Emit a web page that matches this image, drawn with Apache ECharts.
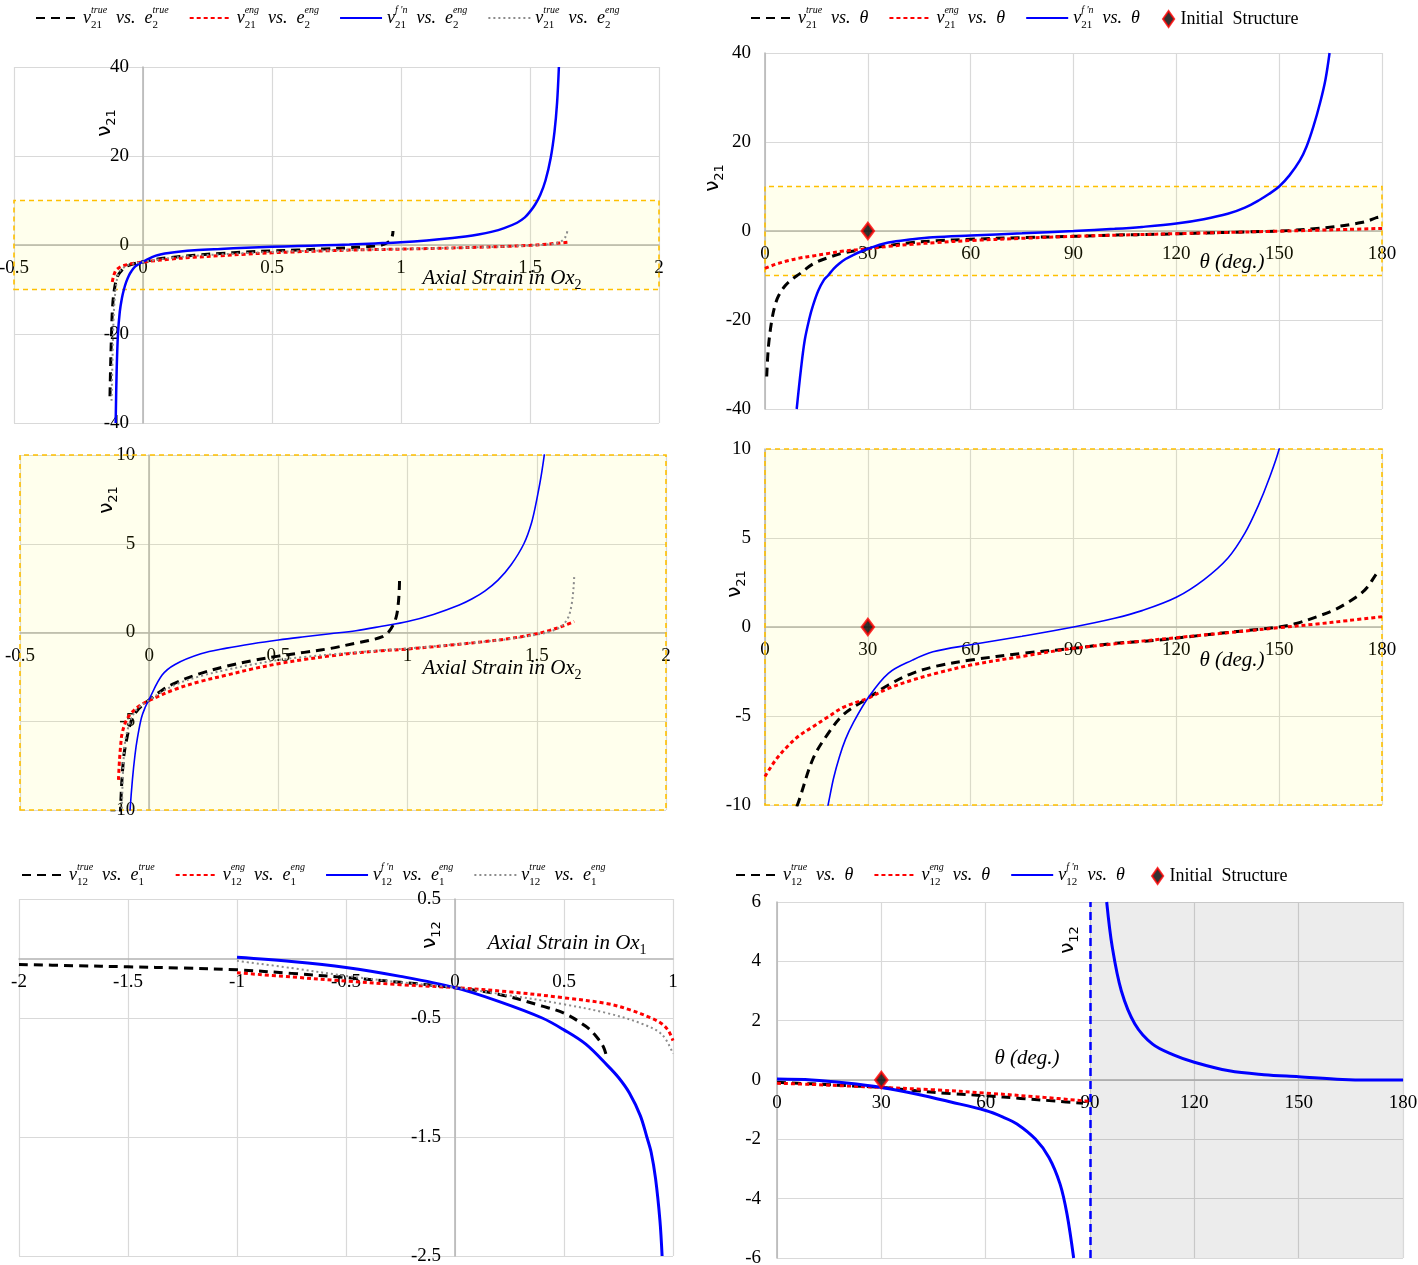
<!DOCTYPE html>
<html><head><meta charset="utf-8">
<script src="https://cdn.jsdelivr.net/npm/echarts@6/dist/echarts.min.js"></script>
<style>html,body{margin:0;padding:0;background:#fff}#c{width:1418px;height:1265px}</style>
</head><body><div id="c"></div>
<script>
// ---------- tick labels ----------
const ticksE2 = [-0.5, 0, 0.5, 1, 1.5, 2];
const ticksNu21Wide = [-40, -20, 0, 20, 40];
const ticksNu21Zoom = [-10, -5, 0, 5, 10];
const ticksTheta = [0, 30, 60, 90, 120, 150, 180];
const ticksE1 = [-2, -1.5, -1, -0.5, 0, 0.5, 1];
const ticksNu12Strain = [-2.5, -1.5, -0.5, 0.5];
const ticksNu12Theta = [-6, -4, -2, 0, 2, 4, 6];
const band21 = [-10, 10];
const unstableTheta = [90, 180];
const initialStructure = [30, 0];

// ---------- nu21 vs axial strain in Ox2 ----------
const a_true_x = [-0.128,-0.125,-0.122,-0.118,-0.111,-0.100,-0.087,-0.070,-0.052,-0.030,0,0.05,0.1,0.2,0.3,0.4,0.5,0.6,0.7,0.8,0.85,0.9,0.925,0.945,0.958,0.965,0.968,0.969];
const a_true_y = [-34,-26,-20,-14,-10,-7.2,-6.0,-5.0,-4.5,-4.15,-3.8,-3.25,-2.85,-2.3,-1.9,-1.58,-1.33,-1.12,-0.9,-0.6,-0.45,-0.25,0.0,0.45,1.0,1.8,2.5,3.15];
const a_eng_x = [-0.119,-0.115,-0.11,-0.105,-0.09,-0.07,-0.04,0,0.1,0.2,0.3,0.4,0.5,0.6,0.7,0.8,0.9,1.0,1.1,1.2,1.3,1.4,1.5,1.55,1.6,1.645];
const a_eng_y = [-8.3,-7.2,-6.3,-5.7,-5.0,-4.55,-4.15,-3.83,-3.2,-2.75,-2.4,-2.05,-1.76,-1.52,-1.32,-1.15,-1.03,-0.93,-0.8,-0.66,-0.51,-0.33,-0.07,0.12,0.36,0.62];
const a_fn_x = [-0.106,-0.102,-0.097,-0.09,-0.082,-0.074,-0.065,-0.055,-0.045,-0.03,-0.015,0,0.05,0.1,0.2,0.3,0.4,0.5,0.6,0.7,0.8,0.9,1.0,1.1,1.2,1.25,1.3,1.35,1.4,1.45,1.48,1.5,1.52,1.54,1.56,1.58,1.595,1.605,1.612];
const a_fn_y = [-40,-28,-20,-15,-12,-10,-8.3,-6.9,-5.9,-4.8,-4.2,-3.75,-2.4,-1.8,-1.2,-0.88,-0.63,-0.42,-0.24,-0.07,0.1,0.35,0.62,1.02,1.55,1.9,2.35,2.95,3.8,5.0,6.2,7.5,9.1,11.3,14.5,19.5,25.5,32,40];
const a_te_x = [-0.122,-0.118,-0.116,-0.112,-0.106,-0.096,-0.08,-0.052,0,0.1,0.2,0.3,0.4,0.5,0.6,0.7,0.8,0.9,1.0,1.1,1.2,1.3,1.4,1.5,1.55,1.59,1.62,1.635,1.642,1.645];
const a_te_y = [-35,-25,-20,-14,-10,-6.5,-5.3,-4.4,-3.8,-2.95,-2.45,-2.1,-1.8,-1.55,-1.38,-1.24,-1.12,-1.0,-0.9,-0.78,-0.65,-0.51,-0.35,-0.12,0.05,0.3,0.8,1.6,2.5,3.2];

// ---------- nu21 vs theta ----------
const b_true_x = [0.5,1,2,3,4,6,8,10,14,18,23,30,36,43,50,60,75,90,102,115,128,142,150,155,161,166,170.5,174,176,178.4,179.5];
const b_true_y = [-32.7,-26,-20,-16.5,-14.5,-12.2,-10.8,-9.7,-7.4,-6.1,-4.9,-4.0,-3.26,-2.6,-2.2,-1.86,-1.48,-1.2,-0.92,-0.73,-0.45,-0.17,0,0.2,0.58,0.95,1.43,1.9,2.3,3.0,3.2];
const b_eng_x = [0,3,6.6,10,14,18,23,30,36,43,50,60,75,90,108,120,135,150,161,170,180];
const b_eng_y = [-8.4,-7.5,-6.7,-6.1,-5.6,-5.1,-4.5,-4.0,-3.45,-2.98,-2.6,-2.14,-1.65,-1.2,-0.83,-0.6,-0.32,-0.04,0.17,0.36,0.58];
const b_fn_x = [9.25,10.5,11.6,13,13.9,15.5,17.2,18.4,20,21.7,23.5,25.7,30,36,43,49,60,75,90,102,110,120,128,135,140,144,147,150,153,156,158,160,162,163.5,164.7];
const b_fn_y = [-40,-31,-24.5,-19.5,-17,-13.5,-11,-10,-8.5,-7.3,-6.3,-5.4,-4.0,-2.6,-1.86,-1.39,-1.0,-0.52,0,0.49,0.92,1.67,2.65,3.86,5.27,6.86,8.3,10,12.5,15.8,19,23.5,29,34,40];

// ---------- nu12 vs axial strain in Ox1 ----------
const c_true_x = [-2,-1.75,-1.5,-1.25,-1,-0.75,-0.5,-0.25,0,0.2,0.4,0.5,0.6,0.65,0.68,0.695];
const c_true_y = [-0.05,-0.06,-0.07,-0.08,-0.095,-0.125,-0.16,-0.2,-0.245,-0.3,-0.4,-0.46,-0.57,-0.66,-0.74,-0.82];
const c_eng_x = [-1,-0.75,-0.5,-0.25,0,0.25,0.5,0.7,0.8,0.9,0.95,0.98,1.0];
const c_eng_y = [-0.12,-0.155,-0.19,-0.22,-0.245,-0.28,-0.33,-0.38,-0.43,-0.5,-0.55,-0.61,-0.69];
const c_fn_x = [-1,-0.75,-0.5,-0.25,0,0.2,0.4,0.5,0.6,0.7,0.75,0.8,0.85,0.88,0.9,0.92,0.94,0.95];
const c_fn_y = [0.01,-0.025,-0.075,-0.15,-0.245,-0.36,-0.5,-0.6,-0.72,-0.9,-1.0,-1.13,-1.32,-1.5,-1.63,-1.85,-2.2,-2.5];
const c_te_x = [-1,-0.75,-0.5,-0.25,0,0.25,0.5,0.7,0.86,0.95,1.0];
const c_te_y = [-0.02,-0.08,-0.146,-0.2,-0.245,-0.31,-0.385,-0.46,-0.55,-0.64,-0.8];

// ---------- nu12 vs theta ----------
const d_true_x = [0,10,20,30,40,50,60,70,80,88];
const d_true_y = [-0.08,-0.13,-0.19,-0.25,-0.36,-0.46,-0.53,-0.62,-0.71,-0.78];
const d_eng_x = [0,10,20,30,45,60,75,90];
const d_eng_y = [-0.11,-0.15,-0.2,-0.25,-0.33,-0.44,-0.57,-0.72];
const d_fn_left_x = [0,10,20,30,40,50,60,65,69,74.3,78.2,81.4,83.4,85.3];
const d_fn_left_y = [0.03,0.0,-0.1,-0.25,-0.47,-0.74,-1.03,-1.25,-1.48,-1.99,-2.61,-3.51,-4.53,-6];
const d_fn_right_x = [94.8,96.4,99,102.9,108,114,120,130,140,150,162.6,170,180];
const d_fn_right_y = [6,4.48,3.01,1.89,1.21,0.85,0.6,0.31,0.18,0.11,0.02,0.0,0.0];

// ---------- legend texts ----------
const legendLabels = {
  A_true: 'ν{sb|21}{sp|true}  vs.  e{sb|2}{sp|true}',
  A_eng:  'ν{sb|21}{sp|eng}  vs.  e{sb|2}{sp|eng}',
  A_fn:   "ν{sb|21}{sp|f 'n}  vs.  e{sb|2}{sp|eng}",
  A_te:   'ν{sb|21}{sp|true}  vs.  e{sb|2}{sp|eng}',
  B_true: 'ν{sb|21}{sp|true}  vs.  θ',
  B_eng:  'ν{sb|21}{sp|eng}  vs.  θ',
  B_fn:   "ν{sb|21}{sp|f 'n}  vs.  θ",
  B_init: '{n|Initial  Structure}',
  C_true: 'ν{sb|12}{sp|true}  vs.  e{sb|1}{sp|true}',
  C_eng:  'ν{sb|12}{sp|eng}  vs.  e{sb|1}{sp|eng}',
  C_fn:   "ν{sb|12}{sp|f 'n}  vs.  e{sb|1}{sp|eng}",
  C_te:   'ν{sb|12}{sp|true}  vs.  e{sb|1}{sp|eng}',
  D_true: 'ν{sb|12}{sp|true}  vs.  θ',
  D_eng:  'ν{sb|12}{sp|eng}  vs.  θ',
  D_fn:   "ν{sb|12}{sp|f 'n}  vs.  θ",
  D_init: '{n|Initial  Structure}'
};

// ---------- styles ----------
const SERIF = 'Liberation Serif';
const stTrue = {color:'#000000', type:[9,6], width:3};
const stEng  = {color:'#ff0000', type:[4,3], width:3};
const stFn   = {color:'#0000ff', type:'solid', width:2.5};
const stFnThin = {color:'#0000ff', type:'solid', width:1.6};
const stTe   = {color:'#8c8c8c', type:[2,3], width:2};
const yellowArea = {color:'rgba(255,250,0,0.07)', borderColor:'#ffc000', borderWidth:1.6, borderType:[5,4]};

const grids = [
  {left:14,  top:67,  width:645, height:356},
  {left:765, top:53,  width:617, height:356},
  {left:20,  top:455, width:646, height:355},
  {left:765, top:449, width:617, height:356},
  {left:19,  top:899, width:654, height:357},
  {left:777, top:902, width:626, height:356}
].map(g => Object.assign(g, {outerBoundsMode:'none', containLabel:false}));
const gridX = [ticksE2, ticksTheta, ticksE2, ticksTheta, ticksE1, ticksTheta];
const gridY = [ticksNu21Wide, ticksNu21Wide, ticksNu21Zoom, ticksNu21Zoom, ticksNu12Strain, ticksNu12Theta];

function ax(gi, ticks, margin, offset, position) {
  return {
    type:'value', gridIndex:gi, position:position, offset:offset,
    min:ticks[0], max:ticks[ticks.length-1], interval:ticks[1]-ticks[0],
    axisLine:{show:true, onZero:false, lineStyle:{color:'#b3b3b3', width:1.5}},
    axisTick:{show:false},
    axisLabel:{color:'#000', fontFamily:SERIF, fontSize:19, margin:margin},
    splitLine:{show:true, lineStyle:{color:'#d9d9d9', width:1.2}}
  };
}
// place each axis where the other axis is zero (shift inward from the grid edge)
function zeroShift(ticks, size) {
  const lo = ticks[0], hi = ticks[ticks.length-1];
  const v = Math.min(Math.max(0, lo), hi);
  return -(v - lo) / (hi - lo) * size;
}
const xAxes = grids.map((g, i) => ax(i, gridX[i], 14, zeroShift(gridY[i], g.height), 'bottom'));
const yAxes = grids.map((g, i) => ax(i, gridY[i], i === 5 ? 16 : 14, zeroShift(gridX[i], g.width), 'left'));

const series = [];
function zip(xs, ys) { return xs.map((x, i) => [x, ys[i]]); }
function addLine(name, gi, xs, ys, st, extra) {
  series.push(Object.assign({
    type:'line', name:name, xAxisIndex:gi, yAxisIndex:gi, data:zip(xs, ys),
    symbol:'none', showSymbol:false, smooth:0.35, clip:true,
    color:st.color, lineStyle:st, z:3, silent:true
  }, extra || {}));
}
function addInit(name, gi) {
  series.push({type:'scatter', name:name, xAxisIndex:gi, yAxisIndex:gi, data:[initialStructure],
    symbol:'diamond', symbolSize:[12,16],
    itemStyle:{color:'#000', borderColor:'#ff0000', borderWidth:2.5}, z:6, silent:true});
}
function bandArea(xTicks, lo, hi) {
  return {silent:true, itemStyle:yellowArea,
    data:[[{xAxis:xTicks[0], yAxis:lo}, {xAxis:xTicks[xTicks.length-1], yAxis:hi}]]};
}

// panel (a)
addLine('A_true', 0, a_true_x, a_true_y, stTrue, {markArea: bandArea(ticksE2, band21[0], band21[1])});
addLine('A_eng', 0, a_eng_x, a_eng_y, stEng);
addLine('A_fn', 0, a_fn_x, a_fn_y, stFn);
addLine('A_te', 0, a_te_x, a_te_y, stTe);
// panel (b)
addLine('B_true', 1, b_true_x, b_true_y, stTrue, {markArea: bandArea(ticksTheta, band21[0], band21[1])});
addLine('B_eng', 1, b_eng_x, b_eng_y, stEng);
addLine('B_fn', 1, b_fn_x, b_fn_y, stFn);
addInit('B_init', 1);
// panel (c)
addLine('A_true', 2, a_true_x, a_true_y, stTrue, {markArea: bandArea(ticksE2, ticksNu21Zoom[0], ticksNu21Zoom[4])});
addLine('A_eng', 2, a_eng_x, a_eng_y, stEng);
addLine('A_fn', 2, a_fn_x, a_fn_y, stFnThin);
addLine('A_te', 2, a_te_x, a_te_y, stTe);
// panel (d)
addLine('B_true', 3, b_true_x, b_true_y, stTrue, {markArea: bandArea(ticksTheta, ticksNu21Zoom[0], ticksNu21Zoom[4])});
addLine('B_eng', 3, b_eng_x, b_eng_y, stEng);
addLine('B_fn', 3, b_fn_x, b_fn_y, stFnThin);
addInit('B_init', 3);
// panel (e)
addLine('C_true', 4, c_true_x, c_true_y, stTrue);
addLine('C_eng', 4, c_eng_x, c_eng_y, stEng);
addLine('C_fn', 4, c_fn_x, c_fn_y, Object.assign({}, stFn, {width:3}));
addLine('C_te', 4, c_te_x, c_te_y, stTe);
// panel (f)
addLine('D_true', 5, d_true_x, d_true_y, stTrue, {
  markArea:{silent:true, itemStyle:{color:'rgba(0,0,0,0.075)'},
    data:[[{xAxis:unstableTheta[0], yAxis:ticksNu12Theta[0]}, {xAxis:unstableTheta[1], yAxis:ticksNu12Theta[6]}]]},
  markLine:{silent:true, symbol:['none','none'], label:{show:false},
    lineStyle:{color:'#0000ff', type:[8,5], width:2.5}, data:[{xAxis:unstableTheta[0]}]}
});
addLine('D_eng', 5, d_eng_x, d_eng_y, stEng);
addLine('D_fn', 5, d_fn_left_x, d_fn_left_y, Object.assign({}, stFn, {width:3}));
addLine('D_fn', 5, d_fn_right_x, d_fn_right_y, Object.assign({}, stFn, {width:3}));
addInit('D_init', 5);

const legendRich = {
  sb:{fontFamily:SERIF, fontSize:11, fontStyle:'normal', width:0, verticalAlign:'bottom', color:'#000'},
  sp:{fontFamily:SERIF, fontSize:10, fontStyle:'italic', verticalAlign:'top', color:'#000'},
  n:{fontFamily:SERIF, fontSize:18, fontStyle:'normal', color:'#000'}
};
const legendText = {fontFamily:SERIF, fontStyle:'italic', fontSize:18, color:'#000', lineHeight:26, rich:legendRich};
function lineLegend(left, top, names, gap) {
  return {left:left, top:top, itemWidth:42, itemHeight:14, itemGap:gap, selectedMode:false,
    data:names.map(n => ({name:n, itemStyle:{opacity:0}})),
    formatter:function(n){ return legendLabels[n]; }, textStyle:legendText};
}
function initLegend(left, top, name) {
  return {left:left, top:top, itemWidth:14, itemHeight:16, selectedMode:false, symbolKeepAspect:true,
    data:[{name:name, icon:'path://M0,-10L7,0L0,10L-7,0Z'}],
    formatter:function(n){ return legendLabels[n]; }, textStyle:legendText};
}

function axisTitle(x, y, sub) {
  return {type:'text', x:x, y:y, rotation:Math.PI/2, z:50,
    style:{text:'ν{s|' + sub + '}', fontFamily:'DejaVu Sans', fontSize:20, fontWeight:'normal', fill:'#000',
      align:'center', verticalAlign:'middle', lineHeight:26,
      rich:{s:{fontFamily:'DejaVu Sans', fontSize:13, fill:'#000', verticalAlign:'bottom'}}}};
}
function italicNote(x, y, main, sub) {
  return {type:'text', x:x, y:y, z:50,
    style:{text: main + (sub ? '{s|' + sub + '}' : ''), fontFamily:SERIF, fontStyle:'italic', fontSize:21, fill:'#000',
      align:'center', verticalAlign:'middle', lineHeight:28,
      rich:{s:{fontFamily:SERIF, fontStyle:'normal', fontSize:14, fill:'#000', verticalAlign:'bottom'}}}};
}

const option = {
  animation:false,
  backgroundColor:'#fff',
  textStyle:{fontFamily:SERIF},
  grid:grids,
  xAxis:xAxes,
  yAxis:yAxes,
  legend:[
    lineLegend(30, 0, ['A_true','A_eng','A_fn','A_te'], 20),
    lineLegend(745, 0, ['B_true','B_eng','B_fn'], 20),
    initLegend(1157, 1, 'B_init'),
    lineLegend(16, 857, ['C_true','C_eng','C_fn','C_te'], 20),
    lineLegend(730, 857, ['D_true','D_eng','D_fn'], 20),
    initLegend(1146, 858, 'D_init')
  ],
  graphic:[
    axisTitle(105, 123, '21'),
    axisTitle(713, 178, '21'),
    axisTitle(107, 500, '21'),
    axisTitle(735, 584, '21'),
    axisTitle(430, 935, '12'),
    axisTitle(1068, 940, '12'),
    italicNote(502, 278, 'Axial Strain in Ox', '2'),
    italicNote(502, 668, 'Axial Strain in Ox', '2'),
    italicNote(567, 943, 'Axial Strain in Ox', '1'),
    italicNote(1232, 262, 'θ (deg.)'),
    italicNote(1232, 660, 'θ (deg.)'),
    italicNote(1027, 1058, 'θ (deg.)')
  ],
  series:series
};
const chart = echarts.init(document.getElementById('c'), null, {renderer:'canvas'});
chart.setOption(option);
</script></body></html>
